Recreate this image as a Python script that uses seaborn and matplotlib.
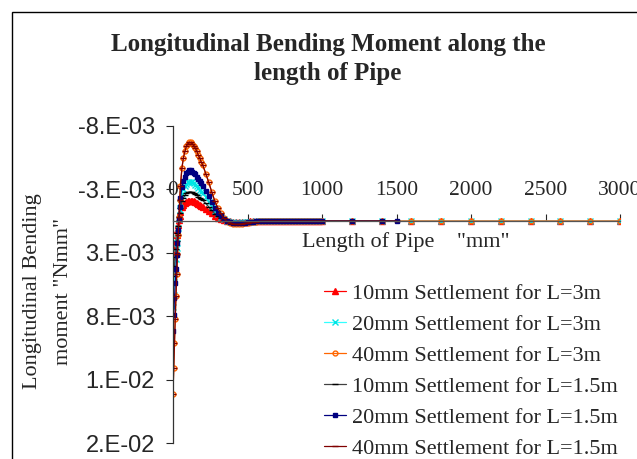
import numpy as np
import pandas as pd
import seaborn as sb
import matplotlib.pyplot as plt
from matplotlib.patches import Rectangle

sb.set_style('white')
plt.rcParams['font.family'] = ['Liberation Serif', 'DejaVu Serif']

# distancia ao longo do tubo (mm) - pontos densos ate 1000
x_near = [0, 5, 10, 15, 20, 25, 30, 35, 40, 45, 50,
          60, 70, 80, 90, 100, 110, 120, 130, 140, 150, 160, 170, 180, 190, 200,
          220, 240, 260, 280, 300, 320, 340, 360, 380, 400, 420, 440, 460, 480,
          500, 520, 540, 560, 580, 600, 620,
          640, 660, 680, 700, 720, 740, 760, 780, 800, 820, 840, 860, 880, 900,
          920, 940, 960, 980, 1000]
x_tail_15 = [1200, 1400, 1500]
x_tail_3 = [1200, 1400, 1600, 1800, 2000, 2200, 2400, 2600, 2800, 3000]

zeros_19 = [0, 0, 0, 0, 0, 0, 0, 0, 0, 0, 0, 0, 0, 0, 0, 0, 0, 0, 0]

# momentos, em unidades de 1e-3
m10_3 = [3.5, 3.0, 2.5, 2.0, 1.53, 1.09, 0.68, 0.29, -0.08, -0.44, -0.73,
         -1.09, -1.3, -1.43, -1.53, -1.59, -1.61, -1.61, -1.59, -1.55, -1.5,
         -1.43, -1.35, -1.29, -1.21, -1.14,
         -0.98, -0.79, -0.6, -0.42, -0.27, -0.16, -0.07, 0.0, 0.03, 0.05, 0.065,
         0.065, 0.057, 0.047, 0.036, 0.026, 0.018, 0.013, 0.008, 0.005, 0.003] + zeros_19
m20_3 = [6.8, 5.8, 4.8, 3.85, 2.95, 2.1, 1.3, 0.55, -0.15, -0.85, -1.4,
         -2.1, -2.5, -2.75, -2.95, -3.05, -3.1, -3.1, -3.05, -2.98, -2.88,
         -2.75, -2.6, -2.48, -2.33, -2.2,
         -1.88, -1.53, -1.15, -0.8, -0.53, -0.3, -0.13, 0.0, 0.06, 0.1, 0.13,
         0.13, 0.11, 0.09, 0.07, 0.05, 0.035, 0.025, 0.015, 0.01, 0.005] + zeros_19
m40_3 = [13.6, 11.6, 9.6, 7.7, 5.9, 4.2, 2.6, 1.1, -0.3, -1.7, -2.8,
         -4.2, -5.0, -5.5, -5.9, -6.1, -6.2, -6.2, -6.1, -5.95, -5.75,
         -5.5, -5.2, -4.95, -4.65, -4.4,
         -3.75, -3.05, -2.3, -1.6, -1.05, -0.6, -0.25, 0.0, 0.12, 0.2, 0.25,
         0.25, 0.22, 0.18, 0.14, 0.1, 0.07, 0.05, 0.03, 0.02, 0.01] + zeros_19
m10_15 = [5.0, 4.3, 3.55, 2.85, 2.2, 1.55, 0.96, 0.41, -0.11, -0.63, -1.04,
          -1.55, -1.85, -2.04, -2.18, -2.26, -2.29, -2.29, -2.26, -2.2, -2.13,
          -2.04, -1.92, -1.83, -1.72, -1.63,
          -1.39, -1.13, -0.85, -0.59, -0.39, -0.22, -0.09, 0.0, 0.04, 0.07, 0.09,
          0.09, 0.08, 0.07, 0.05, 0.04, 0.03, 0.02, 0.01, 0.01, 0.0] + zeros_19
m20_15 = [8.7, 7.4, 6.1, 4.9, 3.8, 2.7, 1.7, 0.7, -0.2, -1.1, -1.8,
          -2.7, -3.2, -3.5, -3.8, -3.9, -4.0, -4.0, -3.9, -3.8, -3.7,
          -3.5, -3.3, -3.2, -3.0, -2.8,
          -2.4, -1.95, -1.5, -1.0, -0.67, -0.38, -0.16, 0.0, 0.08, 0.13, 0.16,
          0.16, 0.14, 0.12, 0.09, 0.06, 0.045, 0.03, 0.02, 0.01, 0.01] + zeros_19
m40_15 = [13.6, 11.6, 9.6, 7.7, 5.9, 4.2, 2.6, 1.1, -0.3, -1.7, -2.8,
          -4.2, -5.0, -5.5, -5.9, -6.1, -6.2, -6.2, -6.1, -5.95, -5.75,
          -5.5, -5.2, -4.95, -4.65, -4.4,
          -3.75, -3.05, -2.3, -1.6, -1.05, -0.6, -0.25, 0.0, 0.12, 0.2, 0.25,
          0.25, 0.22, 0.18, 0.14, 0.1, 0.07, 0.05, 0.03, 0.02, 0.01] + zeros_19
tail_15 = [0, 0, 0]
tail_3 = [0, 0, 0, 0, 0, 0, 0, 0, 0, 0]

series = [
    ('10mm Settlement for L=3m', m10_3, tail_3, x_tail_3, '#FF0000', '#FF0000', '^', 4, True),
    ('20mm Settlement for L=3m', m20_3, tail_3, x_tail_3, '#33FFFF', '#00E5E5', 'x', 4, True),
    ('40mm Settlement for L=3m', m40_3, tail_3, x_tail_3, '#FF6600', '#FF6600', 'o', 3.5, False),
    ('10mm Settlement for L=1.5m', m10_15, tail_15, x_tail_15, '#404040', '#000000', '_', 5, True),
    ('20mm Settlement for L=1.5m', m20_15, tail_15, x_tail_15, '#000080', '#000080', 's', 3.5, True),
    ('40mm Settlement for L=1.5m', m40_15, tail_15, x_tail_15, '#800000', '#800000', '_', 5, True),
]

fig = plt.figure(figsize=(6.37, 4.59), dpi=100)
ax = fig.add_axes([173/637, 1-443/459, (620-173)/637, (443-126)/459])

for nome, vals, tail, xt, cor, mcor, mk, ms, cheio in series:
    df = pd.DataFrame({'x': x_near + xt, 'm': (np.array(vals + tail) * 1e-3)})
    sb.lineplot(data=df, x='x', y='m', ax=ax, color=cor, marker=mk, markersize=ms,
                markeredgecolor=mcor, markerfacecolor=mcor if cheio else 'none',
                markeredgewidth=1.0, linewidth=0.9, sort=False, estimator=None,
                label=nome)

ax.set_xlim(0, 3000)
ax.set_ylim(0.0175, -0.0075)
ax.set_facecolor('white')

# eixo x cruza em zero, rotulos acima
ax.spines['bottom'].set_visible(False)
ax.spines['right'].set_visible(False)
ax.spines['top'].set_position(('data', 0))
ax.spines['top'].set_linewidth(0.9)
ax.spines['left'].set_linewidth(0.9)
ax.spines['top'].set_color('#555555')
ax.spines['left'].set_color('#333333')
ax.xaxis.set_ticks_position('top')
ax.set_xticks([0, 500, 1000, 1500, 2000, 2500, 3000])
ax.set_xticklabels(['0', '500', '1000', '1500', '2000', '2500', '3000'])
ax.tick_params(axis='x', direction='out', length=5, width=0.8, pad=10, labelsize=15.5)

yticks = [-0.0075, -0.0025, 0.0025, 0.0075, 0.0125, 0.0175]
ylabels = ['-8.E-03', '-3.E-03', '3.E-03', '8.E-03', '1.E-02', '2.E-02']
ax.set_yticks(yticks)
ax.set_yticklabels(ylabels, family=['Liberation Sans', 'DejaVu Sans'])
ax.tick_params(axis='y', direction='out', length=5, width=0.8, pad=8, labelsize=17, left=True)

ax.set_xlabel('Length of Pipe    "mm"', fontsize=16)
ax.xaxis.set_label_coords((406-173)/(620-173), (443-242)/317)
ax.xaxis.label.set_va('center')
ax.set_ylabel('')

fig.text(48/637, 1-291/459, 'Longitudinal Bending\nmoment "Nmm"', rotation=90,
         ha='center', va='center', multialignment='center', fontsize=16, linespacing=1.85)

fig.text(328/637, 1-59/459, 'Longitudinal Bending Moment along the\nlength of Pipe',
         ha='center', va='center', fontsize=18, fontweight='bold', linespacing=1.35)

leg = ax.legend(loc='upper left', bbox_to_anchor=(324/637, 1-283/459),
                bbox_transform=fig.transFigure, frameon=False, fontsize=16,
                handlelength=1.0, handletextpad=0.25, labelspacing=0.47, borderpad=0,
                borderaxespad=0)

fig.patches.append(Rectangle((12/637, -0.1), 2, 1.1-12/459, transform=fig.transFigure,
                             fill=False, edgecolor='black', linewidth=1.0))

fig.savefig('out.png', dpi=100)
